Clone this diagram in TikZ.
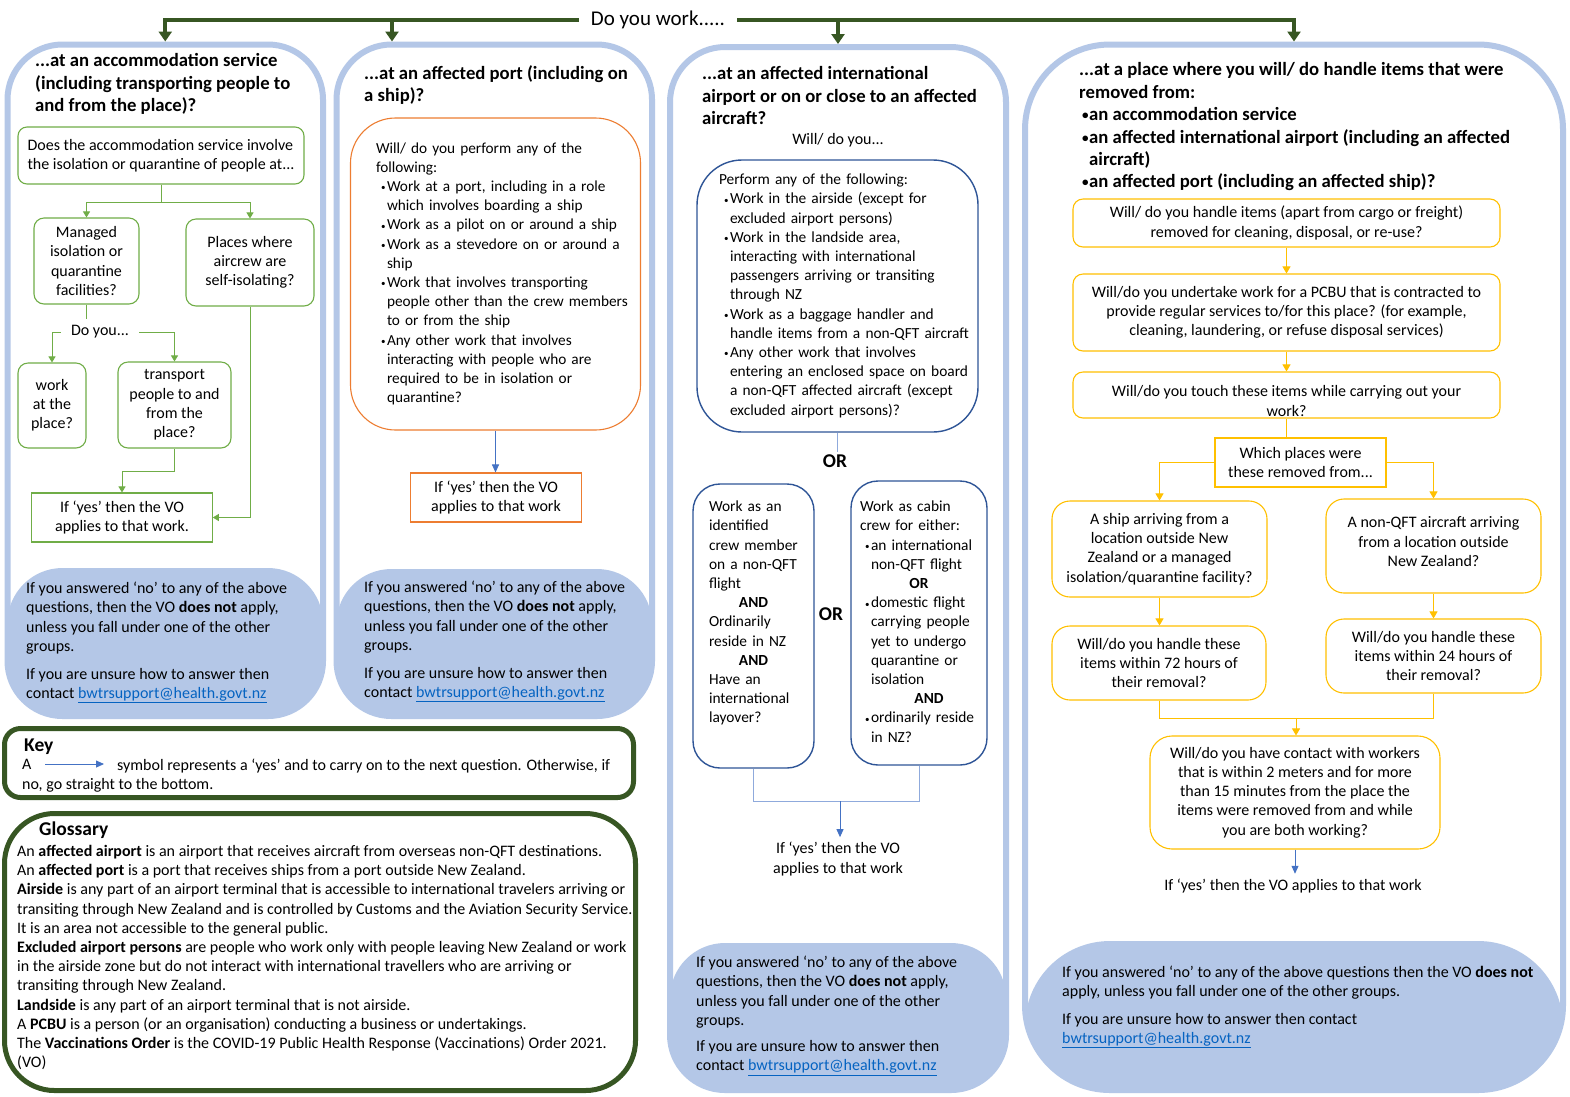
\documentclass[tikz,border=0pt]{standalone}
\usepackage{fontspec}
\usepackage{graphicx}
\setmainfont{Carlito}
\usetikzlibrary{arrows.meta,calc}
\definecolor{frameblue}{HTML}{B4C7E7}
\definecolor{dgreen}{HTML}{375623}
\definecolor{lgreen}{HTML}{70AD47}
\definecolor{orng}{HTML}{ED7D31}
\definecolor{navy}{HTML}{2F5597}
\definecolor{gold}{HTML}{FFC000}
\definecolor{arrblue}{HTML}{4472C4}
\definecolor{lineblue}{HTML}{8FAADC}
\definecolor{linkblue}{HTML}{0563C1}
\newcommand\bul{\hspace*{5pt}\makebox[6pt][l]{\raisebox{0.5pt}{\fontsize{9}{9}\selectfont\textbullet}}}
\newcommand\ind{\hspace*{11pt}}
\newcommand\tbul{\hspace*{3pt}\makebox[7pt][l]{\raisebox{1pt}{\scalebox{0.7}{•}}}}
\newcommand\tlines[1]{\begin{tabular}{@{}l@{}}#1\end{tabular}}
\newcommand\mail{\textcolor{linkblue}{\underline{bwtrsupport@health.govt.nz}}}
\tikzset{
 body/.style={font=\fontsize{16}{19.2}\selectfont},
 bodyc/.style={font=\fontsize{15.4}{19.2}\selectfont},
 ttl/.style={font=\bfseries\fontsize{18.7}{22.4}\selectfont, align=left, anchor=north west, inner sep=0pt},
 txt/.style={body, align=left, anchor=north west, inner sep=0pt},
 orsty/.style={font=\bfseries\fontsize{19.5}{22}\selectfont, inner sep=2pt},
 colframe/.style={draw=frameblue, line width=6pt, rounded corners=55pt, inner sep=0pt},
 footfill/.style={path picture={\fill[frameblue] (path picture bounding box.south west) rectangle ([yshift=#1]path picture bounding box.south east);}},
 gbox/.style={draw=lgreen, line width=1.1pt, rounded corners=10pt, align=center, inner sep=0pt, body},
 obox/.style={draw=orng, line width=1.1pt, rounded corners=45pt, inner ysep=0pt, align=left, font=\fontsize{15.3}{19.2}\selectfont},
 osq/.style={draw=orng, line width=1.1pt, align=center, inner sep=0pt, body},
 nbox/.style={draw=navy, line width=1.4pt, rounded corners=45pt, inner ysep=0pt, align=left, bodyc},
 ybox/.style={draw=gold, line width=1.1pt, rounded corners=10pt, align=center, inner sep=0pt, body},
 garrow/.style={draw=lgreen, line width=1pt, -{Triangle[width=7pt,length=6pt]}},
 gline/.style={draw=lgreen, line width=1pt},
 yarrow/.style={draw=gold, line width=1pt, -{Triangle[width=8pt,length=7pt]}},
 yline/.style={draw=gold, line width=1pt},
 barrow/.style={draw=arrblue, line width=0.9pt, -{Triangle[width=7pt,length=8pt]}},
 lbline/.style={draw=lineblue, line width=1pt},
 darrow/.style={draw=dgreen, line width=4pt, -{Triangle[width=13pt,length=10pt]}},
 greenframe/.style={draw=dgreen, line width=5pt, inner sep=0pt},
 hdr/.style={font=\bfseries\fontsize{19.5}{22}\selectfont, anchor=north west, inner sep=0pt}
}
\begin{document}
\begin{tikzpicture}[x=1pt,y=-1pt]
\useasboundingbox (0,0) rectangle (1570,1096);
\fill[white] (0,0) rectangle (1570,1096);

% ---------- column frames ----------
\node[colframe, footfill=148pt, minimum width=315.5pt, minimum height=671.5pt] (col1) at (165.25,380.25) {};
\node[colframe, footfill=147pt, minimum width=315.5pt, minimum height=671.5pt] (col2) at (494.25,380.25) {};
\node[colframe, footfill=147pt, minimum width=336pt, minimum height=1043pt] (col3) at (838,568.5) {};
\node[colframe, rounded corners=85pt, footfill=149pt, minimum width=538pt, minimum height=1045.5pt] (col4) at (1294,567.25) {};

% ---------- top question ----------
\node[font=\fontsize{21}{24}\selectfont, inner xsep=12pt, inner ysep=2pt] (dyw) at (658,20) {Do you work.....};
\coordinate (j2) at (392,19);
\draw[darrow] (dyw.west) -| (col1.north);
\draw[darrow] (j2) -- (j2 |- col2.north);
\draw[darrow] (dyw.east) -| (col4.north);
\draw[darrow] (col3.north |- dyw.east) -- (col3.north);

% ---------- column 1 ----------
\node[ttl] (t1) at (35,53.5) {...at an accommodation service\\(including transporting people to\\and from the place)?};
\node[gbox, rounded corners=9pt, minimum width=286pt, minimum height=57pt, align=left] (q1) at (161,155.5) {Does the accommodation service involve\\the isolation or quarantine of people at...};
\node[gbox, minimum width=105pt, minimum height=86pt] (mq) at (86.5,261) {Managed\\isolation or\\quarantine\\facilities?};
\node[gbox, minimum width=128pt, minimum height=87pt] (pw) at (250,262.5) {Places where\\aircrew are\\self-isolating?};
\node[body, inner xsep=10pt, inner ysep=6pt] (dy) at (100,332) {Do you...};
\node[gbox, minimum width=68pt, minimum height=85pt] (wk) at (52,405.5) {work\\at the\\place?};
\node[gbox, minimum width=113pt, minimum height=86pt] (tr) at (174.5,405) {transport\\people to and\\from the\\place?};
\node[gbox, sharp corners, minimum width=180.5pt, minimum height=49pt] (r1) at (122,517.5) {If ‘yes’ then the VO\\applies to that work.};
\draw[garrow] (q1.south) -- ++(0,18) -| (mq.north);
\draw[garrow] (q1.south) -- ++(0,18) -| (pw.north);
\draw[gline] (mq.south) -- (mq.south |- dy.north);
\draw[garrow] (dy.west) -| (wk.north);
\draw[garrow] (dy.east) -| (tr.north);
\draw[garrow] (tr.south) -- ++(0,23) -| (r1.north);
\draw[garrow] (pw.south) |- (r1.east);
\node[txt] (f1) at (26,582) {If you answered ‘no’ to any of the above\\questions, then the VO \textbf{does not} apply,\\unless you fall under one of the other\\groups.\\[8.5pt]If you are unsure how to answer then\\contact \mail};

% ---------- column 2 ----------
\node[ttl] (t2) at (364,65.5) {...at an affected port (including on\\a ship)?};
\node[obox, minimum width=290pt, minimum height=312pt, inner xsep=25.5pt, text width=239pt] (ob) at (495.5,274) {\tlines{Will/ do you perform any of the\\
following:\\
\bul Work at a port, including in a role\\
\ind which involves boarding a ship\\
\bul Work as a pilot on or around a ship\\
\bul Work as a stevedore on or around a\\
\ind ship\\
\bul Work that involves transporting\\
\ind people other than the crew members\\
\ind to or from the ship\\
\bul Any other work that involves\\
\ind interacting with people who are\\
\ind required to be in isolation or\\
\ind quarantine?}};
\node[osq, minimum width=171.5pt, minimum height=49pt] (r2) at (496,497.5) {If ‘yes’ then the VO\\applies to that work};
\draw[barrow] (ob.south) -- (ob.south |- r2.north);
\node[txt] (f2) at (364,581) {If you answered ‘no’ to any of the above\\questions, then the VO \textbf{does not} apply,\\unless you fall under one of the other\\groups.\\[8.5pt]If you are unsure how to answer then\\contact \mail};

% ---------- column 3 ----------
\node[ttl] (t3) at (702,66.5) {...at an affected international\\airport or on or close to an affected\\aircraft?};
\node[body, inner sep=1pt] (wd) at (838,140) {Will/ do you...};
\node[nbox, minimum width=281pt, minimum height=272pt, inner xsep=22pt, text width=237pt] (nb) at (837.5,296) {\tlines{Perform any of the following:\\
\bul Work in the airside (except for\\
\ind excluded airport persons)\\
\bul Work in the landside area,\\
\ind interacting with international\\
\ind passengers arriving or transiting\\
\ind through NZ\\
\bul Work as a baggage handler and\\
\ind handle items from a non-QFT aircraft\\
\bul Any other work that involves\\
\ind entering an enclosed space on board\\
\ind a non-QFT affected aircraft (except\\
\ind excluded airport persons)?}};
\node[orsty] (or1) at (835,461) {OR};
\draw[lbline] (nb.south) -- (nb.south |- or1.north);
\node[nbox, rounded corners=27pt, minimum width=121pt, minimum height=284pt, inner xsep=16pt, text width=89pt] (lb) at (753.5,626) {\tlines{Work as an\\identified\\crew member\\on a non-QFT\\flight\\
\makebox[89pt][c]{\textbf{AND}}\\
Ordinarily\\reside in NZ\\
\makebox[89pt][c]{\textbf{AND}}\\
Have an\\international\\layover?\\[25pt]}};
\node[nbox, rounded corners=27pt, minimum width=136pt, minimum height=284pt, inner xsep=9pt, text width=118pt] (rb) at (919,623) {\tlines{Work as cabin\\crew for either:\\
\bul an international\\
\ind non-QFT flight\\
\makebox[118pt][c]{\textbf{OR}}\\
\bul domestic flight\\
\ind carrying people\\
\ind yet to undergo\\
\ind quarantine or\\
\ind isolation\\
\hspace*{20pt}\makebox[98pt][c]{\textbf{AND}}\\
\bul ordinarily reside\\
\ind in NZ?}};
\node[orsty] (or2) at (831,614) {OR};
\coordinate (j3) at (840,801);
\draw[lbline] (lb.south) |- (j3);
\draw[lbline] (rb.south) |- (j3);
\node[body, align=center, inner sep=5pt] (r3) at (838,859) {If ‘yes’ then the VO\\applies to that work};
\draw[barrow] (j3) -- (j3 |- r3.north);
\node[txt] (f3) at (696,956) {If you answered ‘no’ to any of the above\\questions, then the VO \textbf{does not} apply,\\unless you fall under one of the other\\groups.\\[7pt]If you are unsure how to answer then\\contact \mail};

% ---------- column 4 ----------
\node[ttl] (t4) at (1079,62.5) {...at a place where you will/ do handle items that were\\removed from:\\
\tbul an accommodation service\\
\tbul an affected international airport (including an affected\\
\hspace*{10pt}aircraft)\\
\tbul an affected port (including an affected ship)?};
\node[ybox, minimum width=427pt, minimum height=48pt] (y1) at (1286.5,223) {Will/ do you handle items (apart from cargo or freight)\\removed for cleaning, disposal, or re-use?};
\node[ybox, minimum width=427pt, minimum height=77pt] (y2) at (1286.5,312.5) {Will/do you undertake work for a PCBU that is contracted to\\provide regular services to/for this place? (for example,\\cleaning, laundering, or refuse disposal services)};
\node[ybox, minimum width=427pt, minimum height=46pt] (y3) at (1286.5,395) {\rule{0pt}{23pt}Will/do you touch these items while carrying out your\\work?};
\node[ybox, sharp corners, minimum width=171pt, minimum height=49pt] (wh) at (1300.5,462.5) {Which places were\\these removed from...};
\node[ybox, rounded corners=18pt, minimum width=215pt, minimum height=96pt] (sh) at (1159.5,549) {A ship arriving from a\\location outside New\\Zealand or a managed\\isolation/quarantine facility?};
\node[ybox, rounded corners=18pt, minimum width=215pt, minimum height=94pt] (nq) at (1433.5,546) {A non-QFT aircraft arriving\\from a location outside\\New Zealand?\rule[-9pt]{0pt}{0pt}};
\node[ybox, rounded corners=18pt, minimum width=214pt, minimum height=74pt] (h72) at (1159,663) {Will/do you handle these\\items within 72 hours of\\their removal?};
\node[ybox, rounded corners=18pt, minimum width=215pt, minimum height=74pt] (h24) at (1433.5,656) {Will/do you handle these\\items within 24 hours of\\their removal?};
\node[ybox, rounded corners=22pt, minimum width=290pt, minimum height=113pt] (ct) at (1295,792.5) {Will/do you have contact with workers\\that is within 2 meters and for more\\than 15 minutes from the place the\\items were removed from and while\\you are both working?};
\node[body, inner sep=5pt] (r4) at (1293,886) {If ‘yes’ then the VO applies to that work};
\draw[yarrow] (y1.south) -- (y2.north);
\draw[yarrow] (y2.south) -- (y3.north);
\draw[yline] (y3.south) -- (y3.south |- wh.north);
\draw[yarrow] (wh.west) -| (sh.north);
\draw[yarrow] (wh.east) -| (nq.north);
\draw[yarrow] (sh.south) -- (sh.south |- h72.north);
\draw[yarrow] (nq.south) -- (h24.north);
\coordinate (j4) at (1296,718);
\draw[yline] (h72.south) |- (j4);
\draw[yline] (h24.south) |- (j4);
\draw[yarrow] (j4) -- (j4 |- ct.north);
\draw[barrow] (ct.south) -- (ct.south |- r4.north);
\node[txt] (f4) at (1062,966) {If you answered ‘no’ to any of the above questions then the VO \textbf{does not}\\apply, unless you fall under one of the other groups.\\[8pt]If you are unsure how to answer then contact\\\mail};

% ---------- key ----------
\node[greenframe, rounded corners=16pt, minimum width=629pt, minimum height=69pt] (key) at (319,763) {};
\node[hdr] (keyh) at (24,738.5) {Key};
\node[txt] (keyA) at (22,759) {A};
\node[txt] (key1) at (117,759) {symbol represents a ‘yes’ and to carry on to the next question. Otherwise, if};
\node[txt] (key2) at (22,778) {no, go straight to the bottom.};
\coordinate (ka) at (45,764);
\coordinate (kb) at (104,764);
\draw[barrow] (ka) -- (kb);

% ---------- glossary ----------
\node[greenframe, rounded corners=50pt, minimum width=631pt, minimum height=277pt] (gl) at (320,952) {};
\node[hdr] (glh) at (39,821.5) {Glossary};
\node[txt] (glt) at (17,845) {An \textbf{affected airport} is an airport that receives aircraft from overseas non-QFT destinations.\\
An \textbf{affected port} is a port that receives ships from a port outside New Zealand.\\
\textbf{Airside} is any part of an airport terminal that is accessible to international travelers arriving or\\
transiting through New Zealand and is controlled by Customs and the Aviation Security Service.\\
It is an area not accessible to the general public.\\
\textbf{Excluded airport persons} are people who work only with people leaving New Zealand or work\\
in the airside zone but do not interact with international travellers who are arriving or\\
transiting through New Zealand.\\
\textbf{Landside} is any part of an airport terminal that is not airside.\\
A \textbf{PCBU} is a person (or an organisation) conducting a business or undertakings.\\
The \textbf{Vaccinations Order} is the COVID-19 Public Health Response (Vaccinations) Order 2021.\\
(VO)};
\end{tikzpicture}
\end{document}
